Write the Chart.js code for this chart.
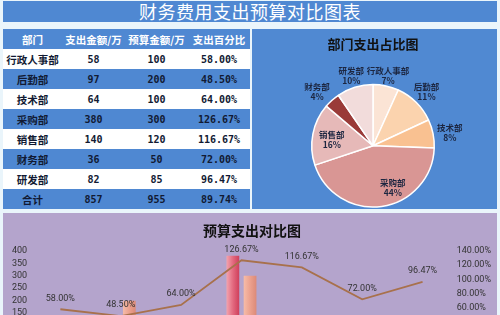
<!DOCTYPE html>
<html>
<head>
<meta charset="utf-8">
<script src="https://cdn.jsdelivr.net/npm/chart.js@4/dist/chart.umd.min.js"></script>
<style>
  body { margin: 0; width: 500px; height: 315px; overflow: hidden; background: #eaf5fb; position: relative; }
  #title { position: absolute; left: 3px; top: 1px; width: 494px; height: 21px; background: #4f88d2;
           color: #fff; font: 18px 'Noto Sans CJK SC'; text-align: center; line-height: 21px; letter-spacing: 0.5px; }
  #tbl { position: absolute; left: 3px; top: 29px; width: 247px; border-collapse: collapse; table-layout: fixed; }
  #tbl td { height: 20px; padding: 0; text-align: center; color: #111a33; font: bold 10px 'DejaVu Sans Mono', monospace; }
  #tbl td.name { font: bold 10.5px 'Noto Sans CJK SC'; }
  #tbl tr.head td { color: #fff; font: bold 10.5px 'Noto Sans CJK SC'; }
  #tbl tr.blue td { background: #4f88d2; }
  #tbl tr.white td { background: #fff; }
  #piebox { position: absolute; left: 252px; top: 29px; width: 245px; height: 180px; background: #5089d2; }
  #barbox { position: absolute; left: 3px; top: 213px; width: 494px; height: 150px; background: #b4a4cc; }
</style>
</head>
<body>
<div id="title">财务费用支出预算对比图表</div>
<table id="tbl">
  <colgroup><col style="width:59px"><col style="width:63px"><col style="width:63px"><col style="width:62px"></colgroup>
  <tbody id="tbody"></tbody>
</table>
<div id="piebox"><canvas id="pie" width="245" height="180"></canvas></div>
<div id="barbox"><canvas id="bar" width="494" height="147"></canvas></div>
<script>
// table / chart values
const headers = ['部门', '支出金额/万', '预算金额/万', '支出百分比'];
const departments = ['行政人事部', '后勤部', '技术部', '采购部', '销售部', '财务部', '研发部'];
const spending = [58, 97, 64, 380, 140, 36, 82];
const budget = [100, 200, 100, 300, 120, 50, 85];
const ratio = [58.00, 48.50, 64.00, 126.67, 116.67, 72.00, 96.47];
const ratioLabels = ['58.00%', '48.50%', '64.00%', '126.67%', '116.67%', '72.00%', '96.47%'];
const shareLabels = ['7%', '11%', '8%', '44%', '16%', '4%', '10%'];
const totalRow = ['合计', 857, 955, '89.74%'];

// styling
const pieColors = ['#fbe4d5', '#fbd3ae', '#f9c191', '#d99694', '#e6b9b8', '#9a3b38', '#f2dcdb'];
const pieLabelRadius = [1.17, 1.24, 1.27, 0.76, 0.68, 1.27, 1.2];
const pieLabelTurn = [0, 0, 2, -17, -3, -4, 0];
const spendShades = ['#f3a3ad', '#e36a80', '#cf3f5b'];
const budgetShades = ['#f6bca8', '#eca18e', '#dc8a78'];

Chart.defaults.font.family = 'Roboto';
Chart.defaults.animation = false;

// build table
function addRow(cells, cls) {
    let tr = document.createElement('tr');
    tr.className = cls;
    cells.forEach((c, i) => {
        let td = document.createElement('td');
        td.textContent = c;
        if (i === 0) td.className = 'name';
        tr.appendChild(td);
    });
    document.getElementById('tbody').appendChild(tr);
}
addRow(headers, 'head blue');
departments.forEach((d, i) => {
    addRow([d, spending[i], budget[i], ratioLabels[i]], i % 2 === 0 ? 'white' : 'blue');
});
addRow(totalRow, 'blue');

// pie labels drawn next to each slice
const pieLabels = {
    id: 'pieLabels',
    afterDatasetsDraw(chart) {
        const ctx = chart.ctx;
        const meta = chart.getDatasetMeta(0);
        ctx.save();
        ctx.fillStyle = '#1c2640';
        ctx.font = "bold 8.5px 'Noto Sans CJK SC'";
        ctx.textAlign = 'center';
        ctx.textBaseline = 'middle';
        meta.data.forEach((arc, i) => {
            const p = arc.getProps(['x', 'y', 'startAngle', 'endAngle', 'outerRadius'], true);
            const a = (p.startAngle + p.endAngle) / 2 + pieLabelTurn[i] * Math.PI / 180;
            const r = p.outerRadius * pieLabelRadius[i];
            const x = p.x + Math.cos(a) * r;
            const y = p.y + Math.sin(a) * r;
            ctx.fillText(departments[i], x, y - 5);
            ctx.fillText(shareLabels[i], x, y + 5);
        });
        ctx.restore();
    }
};

new Chart(document.getElementById('pie').getContext('2d'), {
    type: 'pie',
    data: {
        labels: departments,
        datasets: [{
            data: spending,
            backgroundColor: pieColors,
            borderColor: '#ffffff',
            borderWidth: 1.5
        }]
    },
    options: {
        responsive: false,
        layout: { padding: { left: 59, right: 62, top: 0, bottom: 0 } },
        plugins: {
            legend: { display: false },
            tooltip: { enabled: false },
            title: {
                display: true,
                text: '部门支出占比图',
                color: '#111111',
                font: { family: 'Noto Sans CJK SC', size: 13, weight: 'bold' },
                padding: { top: 7, bottom: 31 }
            }
        }
    },
    plugins: [pieLabels]
});

// horizontal shading on bars + percentage labels over the line
const barShade = {
    id: 'barShade',
    beforeDatasetsDraw(chart) {
        const ctx = chart.ctx;
        chart.data.datasets.forEach((ds, di) => {
            if (!ds.shades) return;
            chart.getDatasetMeta(di).data.forEach(bar => {
                const g = ctx.createLinearGradient(bar.x - bar.width / 2, 0, bar.x + bar.width / 2, 0);
                ds.shades.forEach((c, k) => g.addColorStop(k / (ds.shades.length - 1), c));
                bar.options = Object.assign({}, bar.options, { backgroundColor: g });
            });
        });
    },
    afterDatasetsDraw(chart) {
        const ctx = chart.ctx;
        const meta = chart.getDatasetMeta(2);
        ctx.save();
        ctx.fillStyle = '#333333';
        ctx.font = '9px Roboto';
        ctx.textAlign = 'center';
        ctx.textBaseline = 'middle';
        meta.data.forEach((pt, i) => {
            ctx.fillText(ratioLabels[i], pt.x, pt.y - 11);
        });
        ctx.restore();
    }
};

new Chart(document.getElementById('bar').getContext('2d'), {
    type: 'bar',
    data: {
        labels: departments,
        datasets: [{
            label: '支出金额/万',
            data: spending,
            backgroundColor: '#e36a80',
            shades: spendShades,
            categoryPercentage: 0.57,
            barPercentage: 0.74,
            yAxisID: 'y',
            order: 2
        }, {
            label: '预算金额/万',
            data: budget,
            backgroundColor: '#eca18e',
            shades: budgetShades,
            categoryPercentage: 0.57,
            barPercentage: 0.74,
            yAxisID: 'y',
            order: 2
        }, {
            type: 'line',
            label: '支出百分比',
            data: ratio,
            borderColor: '#a8714c',
            borderWidth: 1.8,
            pointRadius: 0,
            tension: 0,
            yAxisID: 'y1',
            order: 1
        }]
    },
    options: {
        responsive: false,
        layout: { padding: { left: 6, right: 2, top: 0, bottom: 1 } },
        plugins: {
            legend: { display: false },
            tooltip: { enabled: false },
            title: {
                display: true,
                text: '预算支出对比图',
                color: '#111111',
                font: { family: 'Noto Sans CJK SC', size: 14, weight: 'bold' },
                padding: { top: 9, bottom: 12 }
            }
        },
        scales: {
            x: { display: false },
            y: {
                position: 'left',
                min: 0, max: 400,
                ticks: { stepSize: 50, autoSkip: false, color: '#333333', font: { size: 9 }, padding: 3 },
                grid: { display: false, drawTicks: false },
                border: { display: false }
            },
            y1: {
                position: 'right',
                min: 0, max: 140,
                ticks: { stepSize: 20, autoSkip: false, color: '#333333', font: { size: 9 }, padding: 4,
                         callback: v => v.toFixed(2) + '%' },
                grid: { display: false, drawTicks: false },
                border: { display: false }
            }
        }
    },
    plugins: [barShade]
});
</script>
</body>
</html>
